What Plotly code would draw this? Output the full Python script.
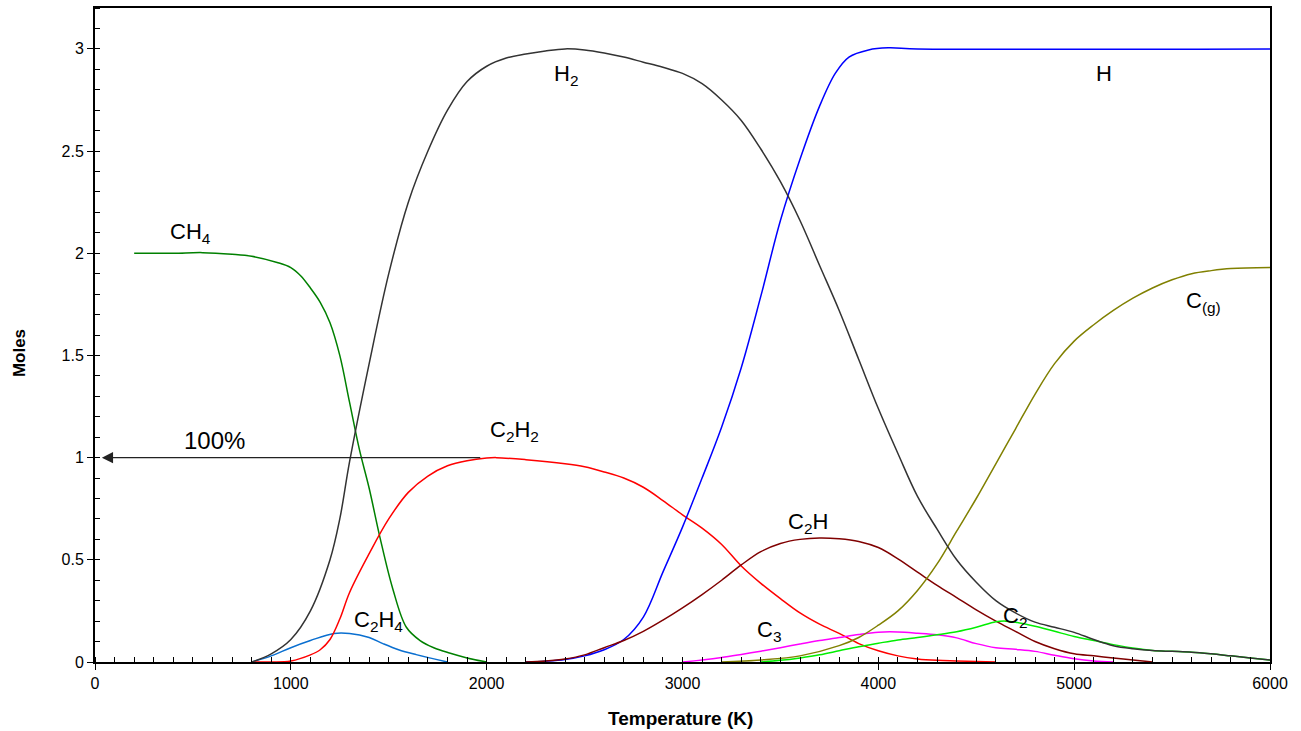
import plotly.graph_objects as go

# ---------------- data ----------------
ch4_T = [200, 400, 550, 700, 800, 930, 1000, 1050, 1100, 1150, 1200, 1250, 1300, 1350, 1400, 1455, 1520, 1590, 1660, 1730, 1810, 1900, 2000]
ch4_y = [2.0, 2.0, 2.003, 1.995, 1.985, 1.955, 1.93, 1.89, 1.83, 1.76, 1.66, 1.50, 1.27, 1.04, 0.85, 0.61, 0.36, 0.17, 0.105, 0.07, 0.044, 0.02, 0.0]

h2_T = [800, 900, 1000, 1100, 1200, 1250, 1300, 1400, 1500, 1600, 1700, 1800, 1900, 2000, 2100, 2200, 2300, 2400, 2500,
        2600, 2700, 2800, 2900, 3000, 3100, 3200, 3300, 3400, 3500, 3600, 3700, 3800, 3900, 4000, 4100, 4200, 4300,
        4400, 4500, 4600, 4700, 4800, 4900, 5000, 5100, 5200, 5300, 5400, 5500, 5600, 5700, 5800, 5900, 6000]
h2_y = [0, 0.04, 0.11, 0.25, 0.50, 0.70, 0.98, 1.46, 1.90, 2.25, 2.50, 2.70, 2.84, 2.915, 2.955, 2.975, 2.99, 3.0, 2.995,
        2.98, 2.96, 2.935, 2.91, 2.88, 2.83, 2.75, 2.65, 2.51, 2.35, 2.16, 1.94, 1.72, 1.48, 1.24, 1.02, 0.81, 0.65,
        0.50, 0.39, 0.30, 0.24, 0.195, 0.17, 0.145, 0.11, 0.08, 0.065, 0.056, 0.052, 0.048, 0.04, 0.03, 0.02, 0.01]

h_T = [2200, 2300, 2400, 2500, 2600, 2700, 2800, 2900, 3000, 3100, 3200, 3300, 3400, 3500, 3600, 3700, 3780, 3850,
       3950, 4050, 4200, 6000]
h_y = [0, 0.004, 0.012, 0.03, 0.06, 0.11, 0.22, 0.44, 0.66, 0.90, 1.15, 1.44, 1.79, 2.16, 2.46, 2.72, 2.88, 2.96,
       2.995, 3.005, 3.0, 3.0]

c2h2_T = [800, 900, 1000, 1100, 1150, 1200, 1250, 1300, 1400, 1500, 1600, 1700, 1800, 1900, 2000, 2050, 2200, 2400,
          2500, 2600, 2700, 2800, 2900, 3000, 3100, 3200, 3300, 3400, 3500, 3600, 3700, 3800, 3900, 4000, 4100, 4200,
          4300, 4400, 4600]
c2h2_y = [0, 0.0, 0.005, 0.035, 0.06, 0.11, 0.21, 0.34, 0.53, 0.70, 0.83, 0.91, 0.96, 0.985, 0.998, 1.0, 0.99, 0.97,
          0.955, 0.93, 0.90, 0.855, 0.79, 0.72, 0.655, 0.575, 0.47, 0.385, 0.31, 0.24, 0.185, 0.14, 0.09, 0.055, 0.03,
          0.015, 0.008, 0.005, 0.0]

c2h_T = [2200, 2300, 2400, 2500, 2600, 2700, 2800, 2900, 3000, 3100, 3200, 3300, 3400, 3500, 3600, 3700, 3800, 3900,
         4000, 4100, 4200, 4300, 4400, 4500, 4600, 4700, 4800, 4900, 5000, 5100, 5200, 5300, 5400]
c2h_y = [0, 0.005, 0.015, 0.035, 0.07, 0.105, 0.15, 0.205, 0.265, 0.33, 0.40, 0.475, 0.54, 0.58, 0.60, 0.607, 0.603,
         0.59, 0.56, 0.505, 0.44, 0.375, 0.315, 0.255, 0.20, 0.15, 0.10, 0.065, 0.04, 0.03, 0.02, 0.01, 0.0]

c2h4_T = [800, 900, 1000, 1100, 1220, 1300, 1400, 1470, 1550, 1640, 1800]
c2h4_y = [0, 0.03, 0.07, 0.105, 0.14, 0.14, 0.12, 0.09, 0.06, 0.036, 0.0]

c3_T = [3000, 3100, 3200, 3300, 3400, 3500, 3600, 3700, 3800, 3900, 4000, 4100, 4200, 4300, 4400, 4500, 4600, 4700,
        4800, 4900, 5000, 5100, 5200]
c3_y = [0, 0.01, 0.022, 0.037, 0.053, 0.07, 0.088, 0.105, 0.12, 0.135, 0.146, 0.147, 0.141, 0.133, 0.118, 0.09, 0.07,
        0.062, 0.052, 0.033, 0.016, 0.005, 0.0]

c2_T = [3400, 3500, 3600, 3700, 3800, 3900, 4000, 4100, 4200, 4300, 4400, 4500, 4600, 4650, 4700, 4800, 4900, 5000,
        5100, 5200, 5300, 5400, 5500, 5600, 5700, 5800, 5900, 6000]
c2_y = [0, 0.008, 0.02, 0.035, 0.055, 0.075, 0.092, 0.108, 0.12, 0.133, 0.148, 0.17, 0.197, 0.2, 0.195, 0.175, 0.15,
        0.125, 0.105, 0.085, 0.068, 0.056, 0.052, 0.048, 0.04, 0.03, 0.02, 0.01]

cg_T = [3200, 3400, 3600, 3800, 3900, 4000, 4100, 4200, 4300, 4400, 4500, 4600, 4700, 4800, 4900, 5000, 5100, 5200,
        5300, 5400, 5500, 5600, 5700, 5800, 6000]
cg_y = [0, 0.01, 0.03, 0.08, 0.12, 0.18, 0.25, 0.35, 0.48, 0.64, 0.80, 0.97, 1.14, 1.31, 1.46, 1.57, 1.65, 1.72,
        1.78, 1.83, 1.87, 1.90, 1.915, 1.925, 1.93]

x_ticks = [0, 1000, 2000, 3000, 4000, 5000, 6000]
y_ticks = [0, 0.5, 1, 1.5, 2, 2.5, 3]

# label text, position (T, moles)
labels = [
    ("CH<sub>4</sub>", 490, 2.10),
    ("H<sub>2</sub>", 2405, 2.87),
    ("H", 5150, 2.88),
    ("C<sub>(g)</sub>", 5660, 1.76),
    ("C<sub>2</sub>H<sub>2</sub>", 2140, 1.13),
    ("C<sub>2</sub>H", 3640, 0.68),
    ("C<sub>3</sub>", 3440, 0.15),
    ("C<sub>2</sub>H<sub>4</sub>", 1450, 0.20),
    ("C<sub>2</sub>", 4700, 0.22),
]

series = [
    ("CH4", ch4_T, ch4_y, "#008000"),
    ("C2H4", c2h4_T, c2h4_y, "#0a6fd0"),
    ("C2H2", c2h2_T, c2h2_y, "#ff0000"),
    ("H", h_T, h_y, "#0000ff"),
    ("C2H", c2h_T, c2h_y, "#800000"),
    ("C3", c3_T, c3_y, "#ff00ff"),
    ("C2", c2_T, c2_y, "#00ee00"),
    ("C(g)", cg_T, cg_y, "#808000"),
    ("H2", h2_T, h2_y, "#333333"),
]

FONT = "Liberation Sans, Arial, sans-serif"

fig = go.Figure()
for name, xs, ys, col in series:
    fig.add_trace(go.Scatter(x=xs, y=ys, mode="lines", name=name,
                             line=dict(color=col, width=1.5, shape="spline", smoothing=1.0),
                             hoverinfo="x+y+name"))

ann = []
for txt, x, y in labels:
    ann.append(dict(x=x, y=y, xref="x", yref="y", text=txt, showarrow=False,
                    font=dict(family=FONT, size=22, color="black"),
                    xanchor="center", yanchor="middle"))

# 100% arrow
ann.append(dict(x=35, y=1, xref="x", yref="y", ax=1975, ay=1, axref="x", ayref="y",
                text="", showarrow=True, arrowhead=2, arrowsize=1.6, arrowwidth=1.4,
                arrowcolor="#222222"))
ann.append(dict(x=610, y=1.085, xref="x", yref="y", text="100%", showarrow=False,
                font=dict(family=FONT, size=24, color="black"), xanchor="center", yanchor="middle"))

# axis titles
ann.append(dict(x=0.4979, y=-0.087, xref="paper", yref="paper", text="<b>Temperature (K)</b>",
                showarrow=False, font=dict(family=FONT, size=19, color="black"),
                xanchor="center", yanchor="middle"))
ann.append(dict(x=-0.064, y=0.472, xref="paper", yref="paper", text="<b>Moles</b>",
                showarrow=False, textangle=-90, font=dict(family=FONT, size=17, color="black"),
                xanchor="center", yanchor="middle"))

fig.update_layout(
    width=1301, height=731,
    margin=dict(l=95, r=31, t=6, b=69),
    paper_bgcolor="white", plot_bgcolor="white",
    showlegend=False,
    annotations=ann,
    font=dict(family=FONT, color="black"),
)
fig.update_xaxes(range=[0, 6000], tickvals=x_ticks, ticktext=[str(v) for v in x_ticks],
                 showgrid=False, zeroline=False, showline=True, linecolor="black", linewidth=2,
                 mirror=True, ticks="outside", ticklen=6, tickwidth=1, tickcolor="black",
                 tickfont=dict(family=FONT, size=16, color="black"),
                 minor=dict(dtick=100, ticks="inside", ticklen=5, tickcolor="black", tickwidth=1, showgrid=False))
fig.update_yaxes(range=[0, 3.2], tickvals=y_ticks, ticktext=["0", "0.5", "1", "1.5", "2", "2.5", "3"],
                 showgrid=False, zeroline=False, showline=True, linecolor="black", linewidth=2,
                 mirror=True, ticks="outside", ticklen=6, tickwidth=1, tickcolor="black",
                 tickfont=dict(family=FONT, size=16, color="black"),
                 minor=dict(dtick=0.1, ticks="inside", ticklen=5, tickcolor="black", tickwidth=1, showgrid=False))

fig.write_html("out.html", config={"displayModeBar": False})

# remove the browser's default page margin so the figure sits at the window's corner
with open("out.html", "r", encoding="utf-8") as f:
    html = f.read()
html = html.replace("<body>", '<body style="margin:0;padding:0;">', 1)
with open("out.html", "w", encoding="utf-8") as f:
    f.write(html)
